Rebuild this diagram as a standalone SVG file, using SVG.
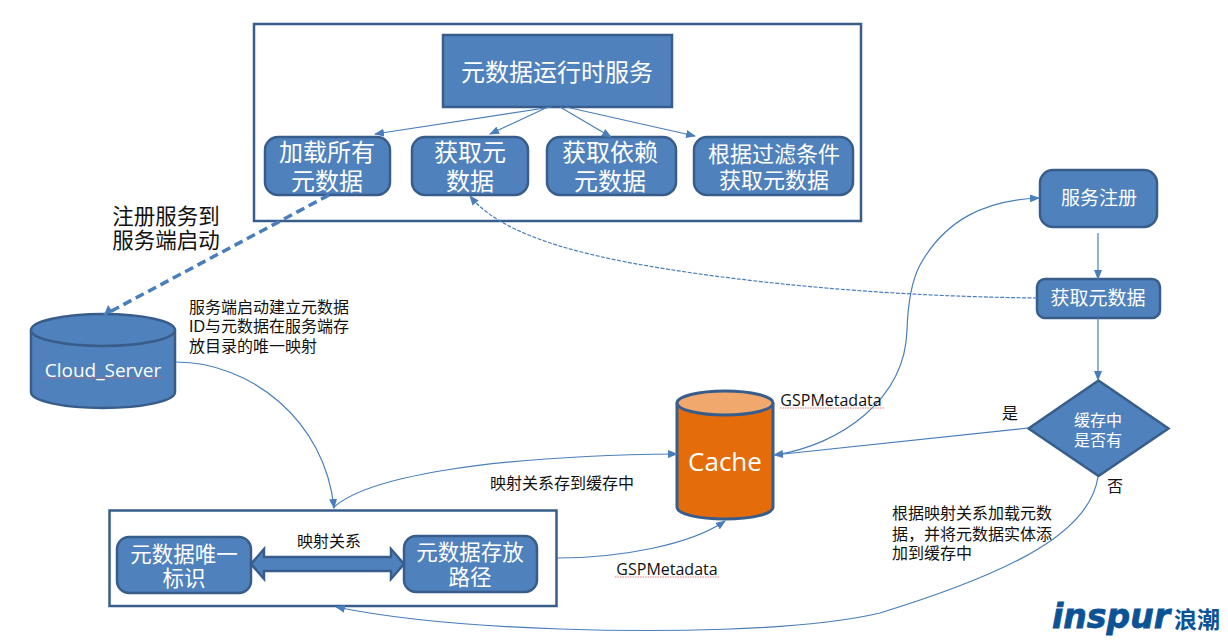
<svg xmlns="http://www.w3.org/2000/svg" width="1228" height="640" viewBox="0 0 1228 640">
<style>
text{font-family:"Liberation Sans","Noto Sans CJK SC",sans-serif;text-anchor:middle}
.n{fill:#4f81bd;stroke:#385d8a;stroke-width:2.5}
.f{fill:#fff;stroke:#385d8a;stroke-width:2.5}
.w{fill:#fff}
.b{fill:#111}
.l{text-anchor:start}
.c{fill:none;stroke:#4a7ebb;stroke-width:1.2}
.a{marker-end:url(#ah)}
.sq{fill:none;stroke:#e06060;stroke-width:.8;stroke-dasharray:1.5 1}
</style>
<defs>
<marker id="ah" markerWidth="10" markerHeight="8" refX="9" refY="4" orient="auto" markerUnits="userSpaceOnUse"><path d="M0 0L10 4L0 8z" fill="#4a7ebb"/></marker>
</defs>
<rect width="1228" height="640" fill="#fff"/>
<g id="frame-top"><rect class="f" x="254" y="24" width="607" height="197"/></g>
<g id="frame-bottom"><rect class="f" x="109.500" y="510.500" width="447" height="95.500"/></g>
<g id="runtime"><rect class="n" x="443" y="35" width="229" height="72"/><text class="w" x="557" y="81" font-size="24">元数据运行时服务</text></g>
<g id="load-all"><rect class="n" x="265" y="137" width="125" height="58" rx="13"/><text class="w" x="327" y="161" font-size="24">加载所有</text><text class="w" x="327" y="190" font-size="24">元数据</text></g>
<g id="get-one"><rect class="n" x="412" y="137" width="116" height="58" rx="13"/><text class="w" x="470" y="161" font-size="24">获取元</text><text class="w" x="470" y="190" font-size="24">数据</text></g>
<g id="get-deps"><rect class="n" x="547" y="137" width="129" height="58" rx="13"/><text class="w" x="610" y="161" font-size="24">获取依赖</text><text class="w" x="610" y="190" font-size="24">元数据</text></g>
<g id="get-filter"><rect class="n" x="694" y="137" width="159" height="58" rx="13"/><text class="w" x="774" y="162" font-size="22">根据过滤条件</text><text class="w" x="774" y="188" font-size="22">获取元数据</text></g>
<g id="cloud-server"><path class="n" d="M31 330V392C31 401 63 408 103 408S175 401 175 392V330"/><ellipse class="n" cx="103" cy="330" rx="72" ry="16"/><text class="w" x="103" y="377" font-size="19" style="font-family:'Open Sans','Noto Sans',sans-serif">Cloud_Server</text><path class="sq" d="M44 378H163"/></g>
<g id="cache"><path d="M677 403V507C677 514 698 519 725 519S773 514 773 507V403" fill="#e46c0a" stroke="#385d8a" stroke-width="3"/><ellipse cx="725" cy="403" rx="48" ry="12" fill="#f0a86c" stroke="#385d8a" stroke-width="3"/><text class="w" x="725" y="471" font-size="26" style="font-family:'Open Sans','Noto Sans',sans-serif">Cache</text></g>
<g id="uid"><rect class="n" x="117" y="537" width="134" height="56" rx="12"/><text class="w" x="184" y="562" font-size="21.500">元数据唯一</text><text class="w" x="184" y="586" font-size="21.500">标识</text></g>
<g id="path-node"><rect class="n" x="404" y="536" width="133" height="56" rx="12"/><text class="w" x="470" y="560" font-size="21.500">元数据存放</text><text class="w" x="470" y="585" font-size="21.500">路径</text></g>
<g id="service-reg"><rect class="n" x="1040" y="170" width="117" height="57" rx="13"/><text class="w" x="1099" y="205" font-size="19">服务注册</text></g>
<g id="get-meta"><rect class="n" x="1037" y="279" width="123" height="39" rx="8"/><text class="w" x="1098" y="305" font-size="19">获取元数据</text></g>
<g id="decision"><path class="n" d="M1098.500 380.500L1168.500 428.500L1098.500 476L1028.500 428.500z"/><text class="w" x="1098" y="426" font-size="16">缓存中</text><text class="w" x="1098" y="446" font-size="16">是否有</text></g>
<g id="connectors">
<path class="c a" d="M552 107L375 134"/>
<path class="c a" d="M548 107L490 134"/>
<path class="c a" d="M560 107L611 137"/>
<path class="c a" d="M566 107L695 136"/>
<path d="M329 195L104 315" fill="none" stroke="#4a7ebb" stroke-width="3.500" stroke-dasharray="9 5"/>
<path d="M104 315L113 312L108 305z" fill="#4a7ebb"/>
<path class="c" stroke-dasharray="4 1.500" d="M1037 298C950 297 830 292 700 274C600 260 505 240 470 196" marker-end="url(#ah)"/>
<path class="c a" d="M176 362C250 362 325 420 334 508"/>
<path class="c a" d="M333 508C365 478 480 456 677 454"/>
<path class="c a" d="M557 558C620 558 690 545 725 521"/>
<path class="c a" d="M775 455C840 445 905 400 907 330C908 300 912 280 920 265C945 220 985 200 1039 198"/>
<path class="c a" d="M1028 428L774 455"/>
<path class="c a" d="M1098 233V279"/>
<path class="c a" d="M1098 318V380"/>
<path class="c a" d="M1098 477C1090 530 1020 570 880 613C800 632 650 632 560 629C470 626 390 618 336 607"/>
<path d="M251 564L264 549V557H391V549L404 564L391 579V571H264V579z" class="n" stroke-width="2"/>
</g>
<g id="labels">
<text class="b" x="166" y="224" font-size="21.500">注册服务到</text>
<text class="b" x="166" y="248" font-size="21.500">服务端启动</text>
<text class="b l" x="189" y="313" font-size="16">服务端启动建立元数据</text>
<text class="b l" x="189" y="332" font-size="16">ID与元数据在服务端存</text>
<text class="b l" x="189" y="352" font-size="16">放目录的唯一映射</text>
<text class="b" x="329" y="547" font-size="16">映射关系</text>
<text class="b" x="562" y="489" font-size="16">映射关系存到缓存中</text>
<text class="b" x="831" y="406" font-size="16" style="font-family:'Open Sans','Noto Sans',sans-serif">GSPMetadata</text>
<path class="sq" d="M780 408H884"/>
<text class="b" x="667" y="575" font-size="16" style="font-family:'Open Sans','Noto Sans',sans-serif">GSPMetadata</text>
<path class="sq" d="M615 577H720"/>
<text class="b" x="1010" y="419" font-size="16">是</text>
<text class="b" x="1115" y="492" font-size="16">否</text>
<text class="b l" x="892" y="519" font-size="16">根据映射关系加载元数</text>
<text class="b l" x="892" y="540" font-size="16">据，并将元数据实体添</text>
<text class="b l" x="892" y="559" font-size="16">加到缓存中</text>
</g>
<g id="logo">
<text x="1052" y="628" font-size="34" font-weight="700" font-style="italic" fill="#0b5394" stroke="#0b5394" stroke-width=".8" textLength="118" lengthAdjust="spacingAndGlyphs" style="font-family:'DejaVu Sans',sans-serif;text-anchor:start">inspur</text>
<text x="1197" y="628" font-size="23" font-weight="700" fill="#0b5394">浪潮</text>
</g>
</svg>
